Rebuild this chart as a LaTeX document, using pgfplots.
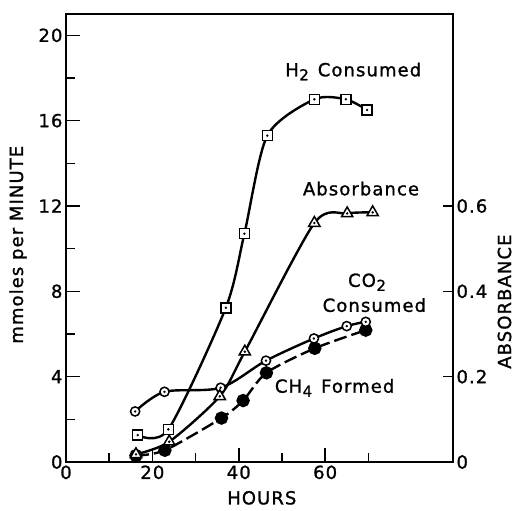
\documentclass[border=0pt]{standalone}
\usepackage{pgfplots}
\pgfplotsset{compat=1.18}
\usepackage{pgfplotstable}
\usepackage{fontspec}
\setmainfont{DejaVu Sans}[LetterSpace=6, FakeBold=1.2]
\newcommand\lbl{\fontsize{18}{18}\selectfont}
\newcommand\tkl{\fontsize{18}{18}\selectfont}
\newcommand\sub[1]{\kern0.5pt\raisebox{-4pt}{\fontsize{15}{15}\selectfont #1}}

\pgfplotstableread{
x y
16.6 1.26
23.7 1.53
37.0 7.23
41.3 10.7
46.6 15.3
57.5 17.0
64.8 17.0
69.7 16.5
}\htwo

\pgfplotstableread{
x y
16.2 0.36
23.9 0.95
35.6 3.08
41.4 5.17
57.5 11.2
65.1 11.65
71.0 11.7
}\absb

\pgfplotstableread{
x y
16.0 2.37
22.8 3.29
35.8 3.48
46.3 4.75
57.4 5.79
65.0 6.37
69.4 6.57
}\cotwo

\pgfplotstableread{
x y
16.2 0.30
22.9 0.55
36.0 2.06
41.0 2.88
46.4 4.18
57.6 5.33
69.4 6.18
}\chfour

\begin{document}
\begin{tikzpicture}
\begin{axis}[
  scale only axis, width=387pt, height=448pt,
  xmin=0, xmax=89.6, ymin=0, ymax=21,
  axis line style={line width=1.6pt},
  every tick/.style={line width=1.6pt, black},
  tick align=inside,
  xtick={0,20,40,60}, minor xtick={10,30,50,70},
  ytick={0,4,...,20}, minor ytick={2,6,...,18},
  xtick pos=bottom, ytick pos=left,
  major tick length=14pt, minor tick length=9pt,
  ticklabel style={font=\tkl},
  /pgf/number format/assume math mode=true,
  clip=false,
  xlabel={HOURS}, ylabel={mmoles per MINUTE},
  every axis x label/.style={at={(axis description cs:0.506,-0.08)}, anchor=center, font=\lbl, inner sep=0pt},
  every axis y label/.style={at={(axis description cs:-0.124,0.485)}, anchor=center, rotate=90, font=\lbl},
]
\coordinate (sw) at (rel axis cs:0,0);
\coordinate (ne) at (rel axis cs:1,1);

\addplot[black, line width=2.4pt, dash pattern=on 13pt off 5pt, smooth, tension=0.45, mark=*, mark size=5.5pt, mark options={solid, fill=black}] table {\chfour};
\addplot[black, line width=2.4pt, smooth, tension=0.5, mark=*, mark size=4.6pt, mark options={solid, fill=white, line width=1.5pt}] table {\cotwo};
\addplot[black, only marks, mark=*, mark size=1pt] table {\cotwo};
\addplot[black, line width=2.4pt, smooth, tension=0.45, mark=triangle*, mark size=6.5pt, mark options={solid, fill=white, line width=1.5pt}] table {\absb};
\addplot[black, only marks, mark=*, mark size=1pt] table {\absb};
\addplot[black, line width=2.4pt, smooth, tension=0.45, mark=square*, mark size=5pt, mark options={solid, fill=white, line width=1.5pt}] table {\htwo};
\addplot[black, only marks, mark=*, mark size=1pt] table {\htwo};

\node[anchor=base, font=\lbl] at (axis cs:66.5,18.08) {H\sub{2}\kern9pt Consumed};
\node[anchor=base, font=\lbl] at (axis cs:68.3,12.5) {Absorbance};
\node[anchor=base, font=\lbl] at (axis cs:69.7,8.21) {CO\sub{2}};
\node[anchor=base, font=\lbl] at (axis cs:71.4,7.04) {Consumed};
\node[anchor=base, font=\lbl] at (axis cs:62.2,3.25) {CH\sub{4}\kern9pt Formed};
\node[rotate=90, anchor=center, font=\lbl, inner sep=0pt] at (rel axis cs:1.133,0.358) {ABSORBANCE};
\end{axis}
\begin{axis}[
  scale only axis, width=387pt, height=448pt,
  xmin=0, xmax=89.6, ymin=0, ymax=1.05,
  axis x line=none, axis y line*=right,
  axis line style={line width=1.6pt},
  every tick/.style={line width=1.6pt, black},
  tick align=inside,
  ytick={0,0.2,0.4,0.6}, yticklabels={0,0.2,0.4,0.6},
  major tick length=10pt,
  ticklabel style={font=\tkl},
  /pgf/number format/assume math mode=true,
]
\end{axis}
\pgfresetboundingbox
\path[use as bounding box] ([shift={(-66pt,-48pt)}]sw) rectangle ([shift={(64pt,14pt)}]ne);
\end{tikzpicture}
\end{document}
